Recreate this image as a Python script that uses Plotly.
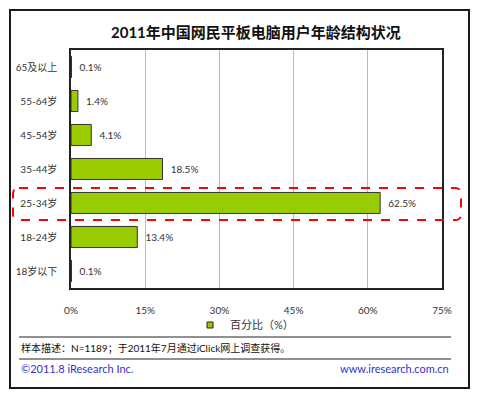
import plotly.graph_objects as go

categories = ["18岁以下", "18-24岁", "25-34岁", "35-44岁", "45-54岁", "55-64岁", "65及以上"]
values = [0.1, 13.4, 62.5, 18.5, 4.1, 1.4, 0.1]
x_ticks = [0, 15, 30, 45, 60, 75]
x_tick_labels = ["0%", "15%", "30%", "45%", "60%", "75%"]
series_name = "百分比（%）"
title_text = "2011年中国网民平板电脑用户年龄结构状况"
note_text = "样本描述：N=1189；于2011年7月通过iClick网上调查获得。"
copyright_text = "©2011.8 iResearch Inc."
site_text = "www.iresearch.com.cn"

# The page body adds an 8px margin, so the figure is drawn 8px smaller and
# positions below are given in window pixels and converted.
OFF = 8
W, H = 480 - 2 * OFF, 399 - 2 * OFF
PL, PR, PT, PB = 71, 442, 50, 288  # plot area in window pixels
L, R, T, B = PL - OFF, W - (PR - OFF), PT - OFF, H - (PB - OFF)
pw, ph = PR - PL, PB - PT


def px(x):
    return (x - PL) / pw


def py(y):
    return (PB - y) / ph


FONT = "Lato, 'Noto Sans CJK SC', sans-serif"

fig = go.Figure()
fig.add_trace(go.Bar(
    y=categories, x=values, orientation="h", name=series_name,
    marker=dict(color="#99CC00", line=dict(color="#333333", width=1)),
    width=0.62,
    text=[f"\u00a0\u00a0{v:.1f}%" for v in values], textposition="outside",
    textfont=dict(size=10, color="#333333", family=FONT),
    cliponaxis=False, showlegend=False,
))
# legend entry (small square marker like the original legend)
fig.add_trace(go.Scatter(
    x=[None], y=[None], mode="markers", name=series_name,
    marker=dict(symbol="square", size=6, color="#99CC00",
                line=dict(color="#222222", width=1)),
    showlegend=True,
))

shapes = []
# outer frame
shapes.append(dict(type="rect", xref="paper", yref="paper",
                   x0=px(10), x1=px(469), y0=py(388), y1=py(10),
                   line=dict(color="#1a1a1a", width=2), layer="below"))
# separator lines
for yy in (337, 359):
    shapes.append(dict(type="line", xref="paper", yref="paper",
                       x0=px(19), x1=px(451), y0=py(yy), y1=py(yy),
                       line=dict(color="#222222", width=1)))
# red dashed rounded highlight
x0, x1, y0, y1 = px(13), px(461), py(220), py(188)
rx, ry = 6 / pw, 6 / ph
path = (f"M {x0+rx},{y1} L {x1-rx},{y1} Q {x1},{y1} {x1},{y1-ry} "
        f"L {x1},{y0+ry} Q {x1},{y0} {x1-rx},{y0} L {x0+rx},{y0} "
        f"Q {x0},{y0} {x0},{y0+ry} L {x0},{y1-ry} Q {x0},{y1} {x0+rx},{y1} Z")
shapes.append(dict(type="path", xref="paper", yref="paper", path=path,
                   line=dict(color="#FF0000", width=2, dash="dash")))

annotations = [
    dict(text=f"<b>{title_text}</b>", xref="paper", yref="paper",
         x=px(256), y=py(32), showarrow=False, xanchor="center", yanchor="middle",
         font=dict(size=15, color="#111111", family=FONT)),
    dict(text=note_text, xref="paper", yref="paper",
         x=px(19), y=py(348), showarrow=False, xanchor="left", yanchor="middle",
         font=dict(size=10, color="#111111", family=FONT)),
    dict(text=copyright_text, xref="paper", yref="paper",
         x=px(19), y=py(368), showarrow=False, xanchor="left", yanchor="middle",
         font=dict(size=11, color="#3333CC", family=FONT)),
    dict(text=site_text, xref="paper", yref="paper",
         x=px(451), y=py(368), showarrow=False, xanchor="right", yanchor="middle",
         font=dict(size=11, color="#3333CC", family=FONT)),
]

fig.update_layout(
    width=W, height=H,
    margin=dict(l=L, r=R, t=T, b=B, autoexpand=False),
    paper_bgcolor="white", plot_bgcolor="white",
    font=dict(family=FONT, size=10, color="#333333"),
    shapes=shapes, annotations=annotations,
    legend=dict(orientation="h", x=px(190), y=py(325), xanchor="left", yanchor="middle",
                font=dict(size=11, color="#333333"), bgcolor="rgba(0,0,0,0)",
                itemwidth=30),
    xaxis=dict(range=[0, 75], tickvals=x_ticks, ticktext=x_tick_labels,
               showgrid=True, gridcolor="#BBBBBB", gridwidth=1,
               showline=True, linecolor="#222222", linewidth=1.5, mirror=True,
               zeroline=False, ticks="", ticklabelstandoff=12,
               tickfont=dict(size=10, color="#333333")),
    yaxis=dict(categoryorder="array", categoryarray=categories,
               showgrid=False, showline=True, linecolor="#222222", linewidth=1.5,
               mirror=True, ticks="", ticklabelstandoff=10,
               tickfont=dict(size=10, color="#333333")),
)

fig.write_html("out.html")
